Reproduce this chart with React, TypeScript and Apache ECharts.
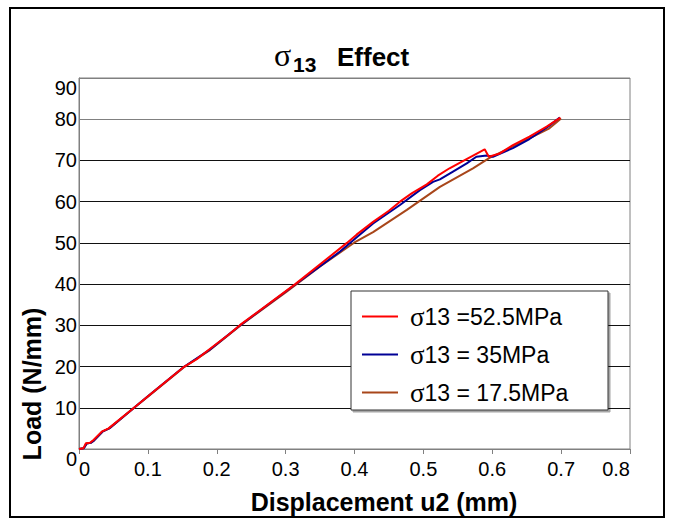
import React, { useEffect, useRef } from "react";
import * as echarts from "echarts";

const xTicks = [0, 0.1, 0.2, 0.3, 0.4, 0.5, 0.6, 0.7, 0.8];
const yTicks = [0, 10, 20, 30, 40, 50, 60, 70, 80, 90];

const legendNames = ["σ13 =52.5MPa", "σ13 = 35MPa", "σ13 = 17.5MPa"];

const redX = [0, 0.0065, 0.01, 0.016, 0.021, 0.033, 0.043, 0.079, 0.101, 0.153, 0.171, 0.188, 0.217, 0.234, 0.314, 0.389, 0.403, 0.427, 0.45, 0.466, 0.483, 0.505, 0.521, 0.538, 0.558, 0.589, 0.595, 0.611, 0.63, 0.654, 0.679, 0.699];
const redY = [0, 0.2, 1.4, 1.5, 2.2, 4.2, 5.0, 9.9, 12.9, 20.0, 21.8, 24.0, 27.7, 30.1, 40.0, 50.0, 52.0, 55.1, 57.8, 60.0, 62.0, 64.2, 66.3, 68.1, 69.9, 72.7, 70.9, 71.7, 73.7, 75.8, 78.2, 80.4];

const blueX = [0, 0.007, 0.011, 0.017, 0.022, 0.034, 0.044, 0.08, 0.1, 0.152, 0.19, 0.234, 0.314, 0.379, 0.405, 0.427, 0.466, 0.495, 0.514, 0.524, 0.543, 0.563, 0.577, 0.592, 0.601, 0.63, 0.654, 0.681, 0.698];
const blueY = [0, 0.2, 1.3, 1.5, 2.1, 4.2, 5.0, 10.0, 12.8, 19.9, 24.1, 30.0, 39.9, 47.9, 51.6, 54.7, 59.2, 62.8, 64.8, 65.4, 67.3, 69.3, 70.9, 71.2, 70.9, 73.0, 75.2, 78.2, 80.4];

const brownX = [0, 0.007, 0.011, 0.017, 0.022, 0.034, 0.044, 0.08, 0.1, 0.152, 0.19, 0.234, 0.3, 0.35, 0.4, 0.427, 0.476, 0.524, 0.572, 0.596, 0.63, 0.659, 0.683, 0.7];
const brownY = [0, 0.2, 1.3, 1.5, 2.1, 4.2, 5.0, 10.0, 12.7, 19.8, 24.0, 29.9, 38.0, 44.3, 50.1, 52.6, 58.0, 63.6, 68.1, 70.6, 73.4, 75.8, 77.8, 80.2];

const FONT = "Liberation Sans, Arial, sans-serif";
const SERIF = "Liberation Serif, Times New Roman, serif";

function pairs(xs: number[], ys: number[]) {
  return xs.map((x, i) => [x, ys[i]]);
}

export default function App() {
  const ref = useRef<HTMLDivElement>(null);

  useEffect(() => {
    if (!ref.current) return;
    const chart = echarts.init(ref.current, undefined, { renderer: "svg" });
    const gridColors = yTicks.map((v) => (v === 0 ? "#808080" : v >= 80 ? "#808080" : "#111111"));
    chart.setOption({
      animation: false,
      backgroundColor: "#ffffff",
      grid: {
        left: 79,
        right: 43,
        top: 78,
        bottom: 70,
        show: true,
        borderColor: "#808080",
        borderWidth: 1,
        backgroundColor: "transparent",
      },
      xAxis: {
        type: "value",
        min: xTicks[0],
        max: xTicks[xTicks.length - 1],
        interval: 0.1,
        axisLine: { show: true, lineStyle: { color: "#808080", width: 1 } },
        axisTick: { show: true, length: 5, lineStyle: { color: "#808080" } },
        axisLabel: {
          color: "#000",
          fontSize: 20,
          fontFamily: FONT,
          margin: 10,
          alignMinLabel: "left",
          alignMaxLabel: "right",
          formatter: (v: number) => String(Math.round(v * 10) / 10),
        },
        splitLine: { show: false },
      },
      yAxis: {
        type: "value",
        min: yTicks[0],
        max: yTicks[yTicks.length - 1],
        interval: 10,
        axisLine: { show: true, lineStyle: { color: "#808080", width: 1 } },
        axisTick: { show: false },
        axisLabel: {
          color: "#000",
          fontSize: 20,
          fontFamily: FONT,
          margin: 2,
          verticalAlignMinLabel: "top",
          verticalAlignMaxLabel: "top",
        },
        splitLine: { show: true, lineStyle: { color: gridColors, width: 1 } },
      },
      legend: {
        data: legendNames,
        orient: "vertical",
        left: 362,
        top: 303,
        icon: "rect",
        itemWidth: 36,
        itemHeight: 2,
        itemGap: 11,
        padding: 0,
        z: 5,
        formatter: (name: string) => "{s|σ}" + name.slice(1),
        textStyle: {
          color: "#000",
          fontSize: 23,
          fontFamily: FONT,
          lineHeight: 27,
          padding: [0, 0, 0, 7],
          rich: { s: { fontFamily: SERIF, fontSize: 27, color: "#000", lineHeight: 27 } },
        },
      },
      graphic: [
        {
          type: "rect",
          z: 4,
          shape: { x: 351, y: 291, width: 257, height: 119 },
          style: { fill: "#fff", stroke: "#333", lineWidth: 1, shadowOffsetX: 2, shadowOffsetY: 2, shadowBlur: 0, shadowColor: "rgba(0,0,0,0.35)" },
        },
        {
          type: "rect",
          z: 10,
          shape: { x: 10, y: 8, width: 654, height: 509 },
          style: { fill: "none", stroke: "#000", lineWidth: 2 },
        },
        {
          type: "text",
          z: 10,
          x: 274,
          y: 55,
          style: { text: "σ", fontSize: 32, fontFamily: SERIF, fill: "#000", verticalAlign: "middle", align: "left" },
        },
        {
          type: "text",
          z: 10,
          x: 293,
          y: 64,
          style: { text: "13", fontSize: 21, fontWeight: "bold", fontFamily: FONT, fill: "#000", verticalAlign: "middle", align: "left" },
        },
        {
          type: "text",
          z: 10,
          x: 337,
          y: 57,
          style: { text: "Effect", fontSize: 26, fontWeight: "bold", fontFamily: FONT, fill: "#000", verticalAlign: "middle", align: "left" },
        },
        {
          type: "text",
          z: 10,
          x: 384,
          y: 502,
          style: { text: "Displacement u2 (mm)", fontSize: 25, fontWeight: "bold", fontFamily: FONT, fill: "#000", verticalAlign: "middle", align: "center" },
        },
        {
          type: "text",
          z: 10,
          x: 32,
          y: 384,
          rotation: Math.PI / 2,
          style: { text: "Load (N/mm)", fontSize: 25, fontWeight: "bold", fontFamily: FONT, fill: "#000", verticalAlign: "middle", align: "center" },
        },
      ],
      series: [
        {
          name: legendNames[2],
          type: "line",
          showSymbol: false,
          data: pairs(brownX, brownY),
          lineStyle: { color: "#a8461a", width: 2 },
          itemStyle: { color: "#a8461a" },
          z: 2,
        },
        {
          name: legendNames[1],
          type: "line",
          showSymbol: false,
          data: pairs(blueX, blueY),
          lineStyle: { color: "#000096", width: 2 },
          itemStyle: { color: "#000096" },
          z: 2,
        },
        {
          name: legendNames[0],
          type: "line",
          showSymbol: false,
          data: pairs(redX, redY),
          lineStyle: { color: "#ff0000", width: 2 },
          itemStyle: { color: "#ff0000" },
          z: 2,
        },
      ],
    });
    return () => chart.dispose();
  }, []);

  return <div ref={ref} style={{ position: "fixed", left: 0, top: 0, width: 673, height: 519 }} />;
}
